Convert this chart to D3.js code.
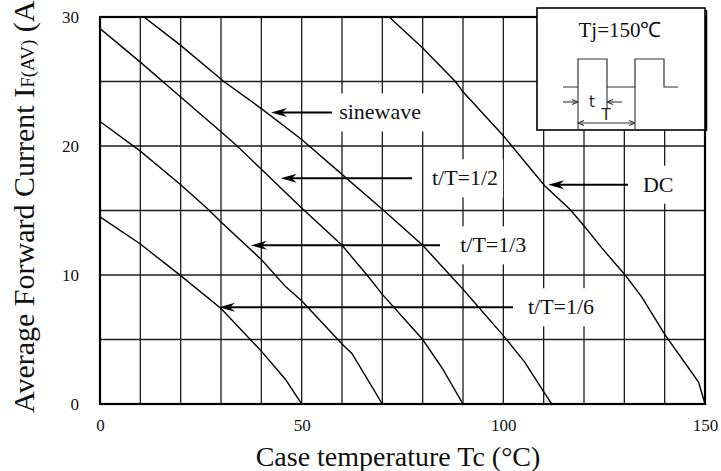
<!DOCTYPE html>
<html lang="en">
<head>
<meta charset="utf-8">
<title>Average forward current vs case temperature</title>
<script src="https://d3js.org/d3.v7.min.js"></script>
<style>
  html, body { margin:0; padding:0; background:#fff; }
  svg { display:block; font-family:"Liberation Serif","Times New Roman",serif; }
</style>
</head>
<body>
<svg id="chart" width="721" height="471"></svg>
<script>
// ─── Data (Tc in °C, IF(AV) in A) ───────────────────────────────────────────
const dcTc       = [71.7, 80, 88.1, 90, 100, 110.3, 116.5, 120.3, 124.4, 130.2, 134.3, 140.1, 145, 148.4, 150];
const dcI        = [30, 27.6, 25, 24.2, 20.8, 16.9, 15.1, 13.7, 12.1, 10, 8.3, 5.35, 3.2, 1.7, 0];
const sineTc     = [10.9, 20, 30.7, 40, 50, 60, 70, 80, 90, 100, 105.3, 110.3, 112];
const sineI      = [30, 27.8, 25, 22.9, 20.5, 17.8, 15.1, 12.3, 8.9, 5.3, 3.25, 0.8, 0];
const halfTc     = [0, 10, 20, 30, 34, 40, 50, 60, 66.2, 70, 80, 85, 90];
const halfI      = [29.1, 26.5, 23.8, 21.1, 20, 18.2, 15.2, 12.3, 10, 8.5, 5.0, 2.7, 0];
const thirdTc    = [0, 10, 20, 26.8, 30, 40, 46, 50, 60, 62.5, 70];
const thirdI     = [21.9, 19.6, 17.0, 15.1, 14.1, 11.2, 9.1, 8.0, 4.65, 3.9, 0];
const sixthTc    = [0, 10, 20, 30, 40, 46, 50];
const sixthI     = [14.5, 12.4, 9.95, 7.4, 4.1, 1.9, 0];

const xTicks = [0, 50, 100, 150];
const yTicks = [0, 10, 20, 30];

// arrow callouts: tip (Tc, I), tail Tc, label start Tc
const callouts = [
  { text: "sinewave", I: 22.6, tip: 42.4,  tail: 57.5,  label: 59.3 },
  { text: "t/T=1/2",  I: 17.5, tip: 44.8,  tail: 77.4,  label: 82.3 },
  { text: "DC",       I: 17.0, tip: 111.1, tail: 130.9, label: 134.6 },
  { text: "t/T=1/3",  I: 12.3, tip: 37.4,  tail: 84.3,  label: 89.3 },
  { text: "t/T=1/6",  I: 7.5,  tip: 29.5,  tail: 102.4, label: 106.1 }
];
// ─────────────────────────────────────────────────────────────────────────

const svg = d3.select("#chart");
const x = d3.scaleLinear().domain([0, 150]).range([100, 705]);
const y = d3.scaleLinear().domain([0, 30]).range([404, 17]);

svg.append("defs").append("clipPath").attr("id", "plotClip")
  .append("rect")
    .attr("x", x(0)).attr("y", y(30))
    .attr("width", x(150) - x(0)).attr("height", y(0) - y(30));

// grid
const grid = svg.append("g").attr("stroke", "#1c1c1c").attr("stroke-width", 1.3);
d3.range(10, 150, 10).forEach(v => {
  grid.append("line").attr("x1", x(v)).attr("x2", x(v)).attr("y1", y(0)).attr("y2", y(30));
});
d3.range(5, 30, 5).forEach(v => {
  grid.append("line").attr("x1", x(0)).attr("x2", x(150)).attr("y1", y(v)).attr("y2", y(v));
});

// tick labels
svg.append("g")
    .attr("transform", `translate(${x(0)},0)`)
    .call(d3.axisLeft(y).tickValues(yTicks).tickSize(0).tickPadding(21))
    .call(g => g.select(".domain").remove())
    .selectAll("text")
      .style("font-family", "Liberation Serif, serif")
      .style("font-size", "17px").attr("fill", "#111");
svg.append("g")
    .attr("transform", `translate(0,${y(0)})`)
    .call(d3.axisBottom(x).tickValues(xTicks).tickSize(0).tickPadding(15))
    .call(g => g.select(".domain").remove())
    .selectAll("text")
      .style("font-family", "Liberation Serif, serif")
      .style("font-size", "17px").attr("fill", "#111");

// curves
const line = d3.line().x(d => x(d[0])).y(d => y(d[1]));
const curves = [
  [dcTc, dcI], [sineTc, sineI], [halfTc, halfI], [thirdTc, thirdI], [sixthTc, sixthI]
];
const curveG = svg.append("g").attr("clip-path", "url(#plotClip)");
curves.forEach(([tc, amps]) => {
  curveG.append("path")
    .datum(tc.map((t, i) => [t, amps[i]]))
    .attr("d", line)
    .attr("fill", "none")
    .attr("stroke", "#000")
    .attr("stroke-width", 1.4);
});

// callout labels with white boxes
callouts.forEach(c => {
  const cy = y(c.I);
  const g = svg.append("g");
  const box = g.append("rect").attr("fill", "#fff");
  const t = g.append("text")
    .attr("x", x(c.label)).attr("y", cy + 7)
    .attr("font-size", 22).attr("fill", "#111")
    .text(c.text);
  const w = t.node().getComputedTextLength();
  box.attr("x", x(c.label) - 5).attr("y", cy - 19)
    .attr("width", w + 10).attr("height", 38);
  g.append("line")
    .attr("x1", x(c.tip) + 10).attr("x2", x(c.tail))
    .attr("y1", cy).attr("y2", cy)
    .attr("stroke", "#000").attr("stroke-width", 2);
  g.append("path")
    .attr("d", `M${x(c.tip)},${cy} L${x(c.tip) + 16},${cy - 4.5} L${x(c.tip) + 11},${cy} L${x(c.tip) + 16},${cy + 4.5}Z`)
    .attr("fill", "#000");
});

// plot border
svg.append("rect")
  .attr("x", x(0)).attr("y", y(30))
  .attr("width", x(150) - x(0)).attr("height", y(0) - y(30))
  .attr("fill", "none").attr("stroke", "#000").attr("stroke-width", 2.2);

// inset: Tj box with pulse train
const inset = svg.append("g").attr("transform", "translate(537,8)");
inset.append("rect").attr("width", 168).attr("height", 122)
  .attr("fill", "#fff").attr("stroke", "#000").attr("stroke-width", 1.6);
inset.append("line").attr("x1", 169.5).attr("x2", 169.5).attr("y1", 2).attr("y2", 123)
  .attr("stroke", "#000").attr("stroke-width", 1.5);
inset.append("text").attr("x", 83).attr("y", 29)
  .attr("text-anchor", "middle").attr("font-size", 21).attr("fill", "#111")
  .text("Tj=150℃");
const pulse = [[26,79],[41,79],[41,51],[70,51],[70,79],[98,79],[98,51],[127,51],[127,79],[141,79]];
inset.append("path").attr("d", d3.line()(pulse))
  .attr("stroke", "#333").attr("stroke-width", 1.2).attr("fill", "none");
[[41, 79, 122], [70, 79, 100], [98, 79, 122]].forEach(([lx, a, b]) => {
  inset.append("line").attr("x1", lx).attr("x2", lx).attr("y1", a).attr("y2", b)
    .attr("stroke", "#333").attr("stroke-width", 1.1);
});
const head = (tx, ty, dir) => inset.append("path")
  .attr("d", `M${tx},${ty} L${tx - dir * 6},${ty - 2.5} M${tx},${ty} L${tx - dir * 6},${ty + 2.5}`)
  .attr("stroke", "#333").attr("stroke-width", 1.1).attr("fill", "none");
inset.append("line").attr("x1", 26).attr("x2", 41).attr("y1", 94).attr("y2", 94)
  .attr("stroke", "#333").attr("stroke-width", 1.1);
head(41, 94, 1);
inset.append("line").attr("x1", 70).attr("x2", 85).attr("y1", 94).attr("y2", 94)
  .attr("stroke", "#333").attr("stroke-width", 1.1);
head(70, 94, -1);
inset.append("line").attr("x1", 41).attr("x2", 98).attr("y1", 115).attr("y2", 115)
  .attr("stroke", "#333").attr("stroke-width", 1.1);
head(98, 115, 1);
head(41, 115, -1);
inset.append("text").attr("x", 55).attr("y", 99).attr("text-anchor", "middle")
  .attr("font-size", 15).attr("font-family", "DejaVu Sans, sans-serif").attr("fill", "#222").text("t");
inset.append("text").attr("x", 69).attr("y", 112).attr("text-anchor", "middle")
  .attr("font-size", 15).attr("font-family", "DejaVu Sans, sans-serif").attr("fill", "#222").text("T");

// axis titles
svg.append("text")
  .attr("x", 398).attr("y", 466).attr("text-anchor", "middle")
  .attr("font-size", 28).attr("fill", "#111")
  .text("Case temperature Tc (°C)");
const yt = svg.append("text")
  .attr("transform", "translate(34,413) rotate(-90)")
  .attr("font-size", 30).attr("fill", "#111");
yt.append("tspan").text("Average Forward Current I");
yt.append("tspan").attr("font-size", 19).text("F(AV)");
yt.append("tspan").text(" (A)");
</script>
</body>
</html>
